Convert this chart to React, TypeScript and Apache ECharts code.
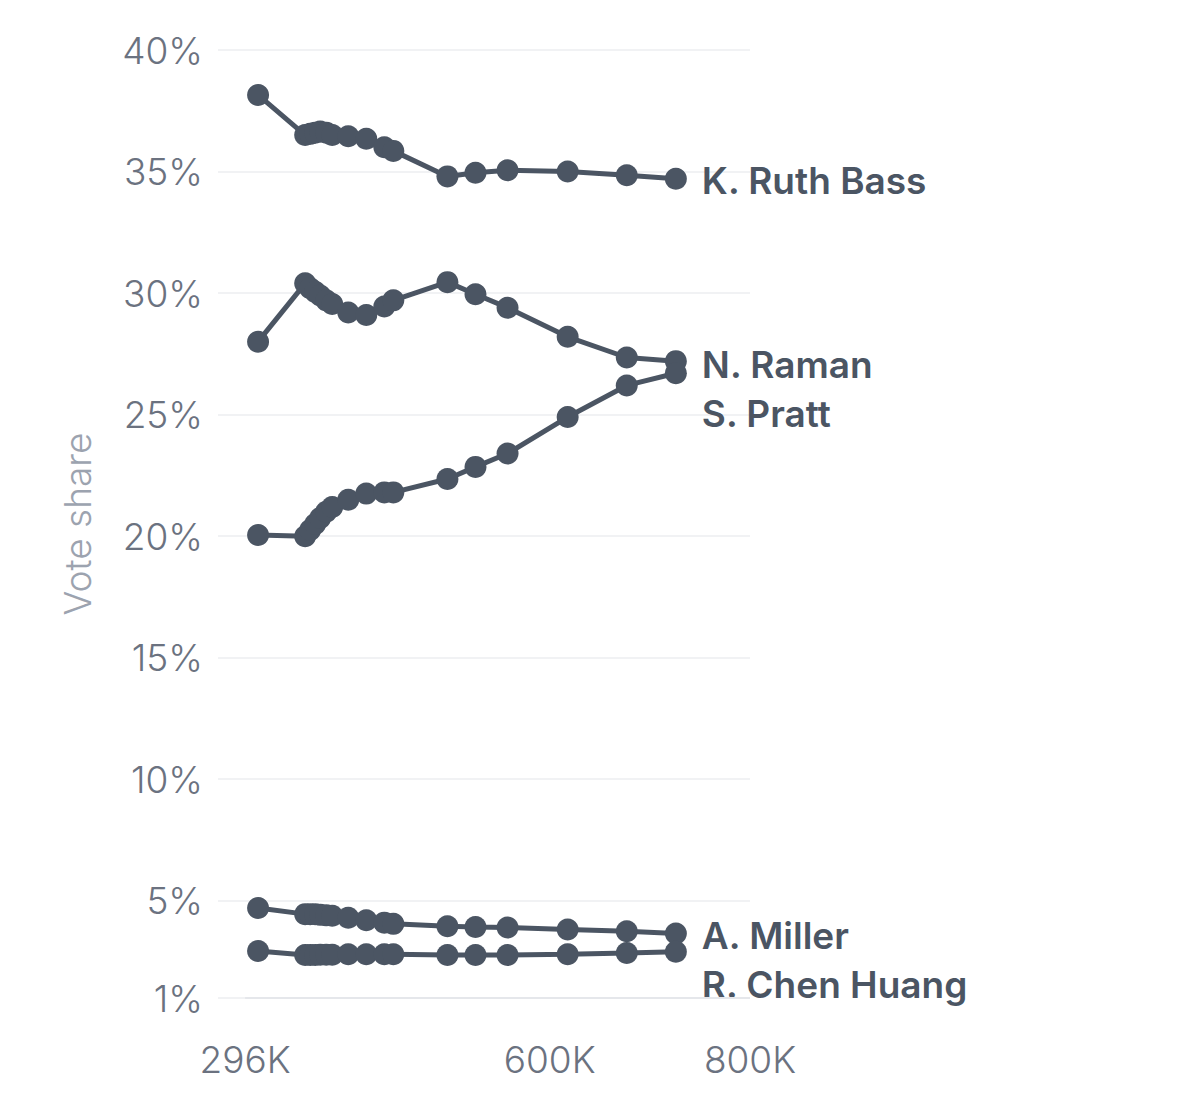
import React, { useEffect, useRef } from "react";
import * as echarts from "echarts";

// Votes counted (thousands)
const votesCounted = [309, 356, 361, 366, 371, 377, 383, 399, 417, 435, 444, 498, 526, 558, 618, 677, 726];

const candidates = ["K. Ruth Bass", "N. Raman", "S. Pratt", "A. Miller", "R. Chen Huang"];

const ruthBass = [38.15, 36.5, 36.55, 36.6, 36.65, 36.6, 36.5, 36.45, 36.35, 36.0, 35.85, 34.8, 34.95, 35.05, 35.0, 34.85, 34.7];
const raman = [28.0, 30.4, 30.2, 30.05, 29.9, 29.7, 29.55, 29.2, 29.1, 29.45, 29.7, 30.45, 29.95, 29.4, 28.2, 27.35, 27.2];
const pratt = [20.05, 20.0, 20.25, 20.5, 20.75, 21.0, 21.2, 21.5, 21.75, 21.8, 21.8, 22.35, 22.85, 23.4, 24.9, 26.2, 26.7];
const miller = [4.7, 4.45, 4.45, 4.45, 4.42, 4.4, 4.38, 4.3, 4.2, 4.1, 4.05, 3.95, 3.92, 3.9, 3.82, 3.75, 3.65];
const chenHuang = [2.93, 2.77, 2.77, 2.77, 2.78, 2.78, 2.78, 2.8, 2.8, 2.8, 2.8, 2.77, 2.77, 2.77, 2.8, 2.85, 2.9];

const seriesValues = [ruthBass, raman, pratt, miller, chenHuang];
const labelOffsets = [2, 3, 40, 2, 33];

const xTickValues = [296, 600, 800];
const yTickValues = [1, 5, 10, 15, 20, 25, 30, 35, 40];

const LINE = "#4b5563";

export default function App() {
  const ref = useRef<HTMLDivElement>(null);
  useEffect(() => {
    if (!ref.current) return;
    const chart = echarts.init(ref.current, null, { renderer: "svg" });
    const series: any[] = candidates.map((name, i) => ({
      name,
      type: "line",
      data: votesCounted.map((x, j) => [x * 1000, seriesValues[i][j]]),
      symbol: "circle",
      symbolSize: 22,
      showAllSymbol: true,
      itemStyle: { color: LINE },
      lineStyle: { color: LINE, width: 5 },
      z: 3,
      endLabel: {
        show: true,
        formatter: name,
        distance: 26,
        offset: [0, labelOffsets[i]],
        color: LINE,
        fontSize: 37,
        fontWeight: 600,
        fontFamily: "Inter",
      },
    }));
    series.push({
      type: "line",
      data: [],
      silent: true,
      z: 1,
      markLine: {
        silent: true,
        symbol: "none",
        label: { show: false },
        lineStyle: { color: "#e5e7eb", width: 2, type: "solid" },
        data: [[{ coord: [296000, 1] }, { coord: [800000, 1] }]],
      },
    });
    chart.setOption({
      animation: false,
      textStyle: { fontFamily: "Inter" },
      grid: { left: 218, right: 450, top: 50, bottom: 97, containLabel: false },
      xAxis: {
        type: "value",
        min: 269000,
        max: 800000,
        axisLine: { show: false },
        axisTick: { show: false },
        splitLine: { show: false },
        axisLabel: {
          customValues: xTickValues.map((v) => v * 1000),
          formatter: (v: number) => `${Math.round(v / 1000)}K`,
          color: "#6b7280",
          fontSize: 37,
          margin: 43,
          fontFamily: "Inter",
          fontWeight: 300,
        },
      },
      yAxis: {
        type: "value",
        min: 1,
        max: 40,
        name: "Vote share",
        nameLocation: "middle",
        nameGap: 122,
        nameTextStyle: { color: "#9ca3af", fontSize: 37, fontFamily: "Inter", fontWeight: 300 },
        axisLine: { show: false },
        axisTick: { show: false, customValues: yTickValues },
        splitLine: { lineStyle: { color: "#f1f2f4", width: 2 } },
        axisLabel: {
          customValues: yTickValues,
          formatter: (v: number) => `${v}%`,
          color: "#6b7280",
          fontSize: 37,
          margin: 15,
          fontFamily: "Inter",
          fontWeight: 300,
        },
      },
      series,
    });
    return () => chart.dispose();
  }, []);
  return (
    <div
      ref={ref}
      style={{ position: "absolute", left: 0, top: 0, width: 1200, height: 1095, background: "#fff" }}
    />
  );
}
